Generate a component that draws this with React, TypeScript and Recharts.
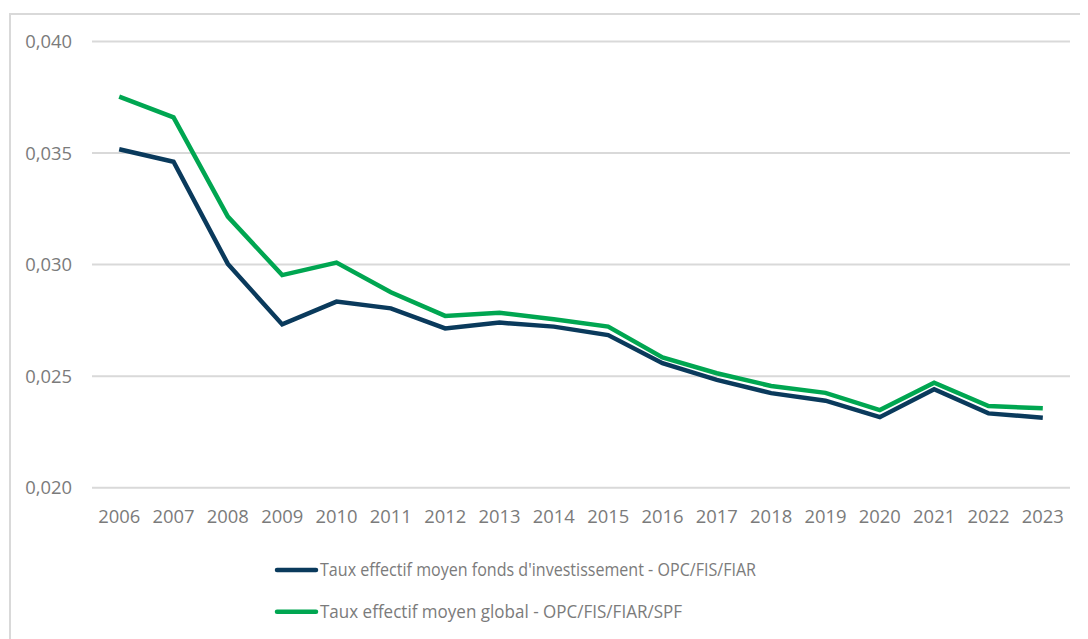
import React from "react";
import { LineChart, Line, XAxis, YAxis, CartesianGrid, Legend } from "recharts";

const years = ["2006", "2007", "2008", "2009", "2010", "2011", "2012", "2013", "2014", "2015", "2016", "2017", "2018", "2019", "2020", "2021", "2022", "2023"];

const fondsInvestissement = [0.03517, 0.03461, 0.03003, 0.02732, 0.02834, 0.02804, 0.02714, 0.0274, 0.02722, 0.02684, 0.02558, 0.02483, 0.02424, 0.0239, 0.02316, 0.02441, 0.02333, 0.02314];

const global = [0.03753, 0.0366, 0.03215, 0.02953, 0.03009, 0.02876, 0.0277, 0.02784, 0.02755, 0.02722, 0.02584, 0.02513, 0.02456, 0.02425, 0.02348, 0.02471, 0.02366, 0.02356];

const yTicks = [0.02, 0.025, 0.03, 0.035, 0.04];

const seriesNames = [
  "Taux effectif moyen fonds d'investissement - OPC/FIS/FIAR",
  "Taux effectif moyen global - OPC/FIS/FIAR/SPF",
];

const legendTextWidths = [436, 362];

const DARK = "#0a3a5c";
const GREEN = "#00a651";
const TEXT = "#7b7b7b";
const FONT = "'Open Sans', sans-serif";

const data = years.map((year, i) => ({
  year,
  fonds: fondsInvestissement[i],
  global: global[i],
}));

const fmt = (v: number) => v.toFixed(3).replace(".", ",");

const LegendContent = (props: any) => {
  const payload = props.payload || [];
  return (
    <svg width={700} height={80} style={{ display: "block" }}>
      {payload.map((p: any, i: number) => {
        const cy = 18 + i * 41.7;
        return (
          <g key={p.value}>
            <line x1={9} x2={48} y1={cy} y2={cy} stroke={p.color} strokeWidth={4.5} strokeLinecap="round" />
            <text
              x={52}
              y={cy + 6}
              fill={TEXT}
              fontFamily={FONT}
              fontSize={19}
              textLength={legendTextWidths[i]}
              lengthAdjust="spacingAndGlyphs"
            >
              {p.value}
            </text>
          </g>
        );
      })}
    </svg>
  );
};

export default function App() {
  return (
    <div style={{ position: "relative", width: 1080, height: 631 }}>
      <div
        style={{
          position: "absolute",
          left: 1,
          top: 5,
          width: 1079,
          height: 626,
          boxSizing: "border-box",
          borderTop: "2px solid #d9d9d9",
          borderLeft: "2px solid #d9d9d9",
        }}
      />
      <div style={{ position: "absolute", left: -8, top: -8 }}>
        <LineChart
          width={1088}
          height={639}
          data={data}
          margin={{ top: 41.5, right: 18, bottom: 41.3, left: 0 }}
        >
          <CartesianGrid vertical={false} stroke="#d9d9d9" strokeWidth={2} />
          <XAxis
            dataKey="year"
            axisLine={false}
            tickLine={false}
            tickSize={0}
            tickMargin={22}
            height={30}
            interval={0}
            padding={{ left: 27.2, right: 27.2 }}
            tick={{ fill: TEXT, fontSize: 18.4, fontFamily: FONT }}
          />
          <YAxis
            domain={[0.02, 0.04]}
            ticks={yTicks}
            tickFormatter={fmt}
            axisLine={false}
            tickLine={false}
            tickSize={0}
            tickMargin={20}
            width={92}
            tick={{ fill: TEXT, fontSize: 18.4, fontFamily: FONT }}
          />
          <Legend
            layout="horizontal"
            verticalAlign="bottom"
            align="left"
            content={LegendContent}
            wrapperStyle={{ left: 268, top: 552, bottom: "auto", width: 700, height: 80 }}
          />
          <Line
            type="linear"
            dataKey="fonds"
            name={seriesNames[0]}
            stroke={DARK}
            strokeWidth={4.5}
            dot={false}
            activeDot={false}
            isAnimationActive={false}
          />
          <Line
            type="linear"
            dataKey="global"
            name={seriesNames[1]}
            stroke={GREEN}
            strokeWidth={4.5}
            dot={false}
            activeDot={false}
            isAnimationActive={false}
          />
        </LineChart>
      </div>
    </div>
  );
}
